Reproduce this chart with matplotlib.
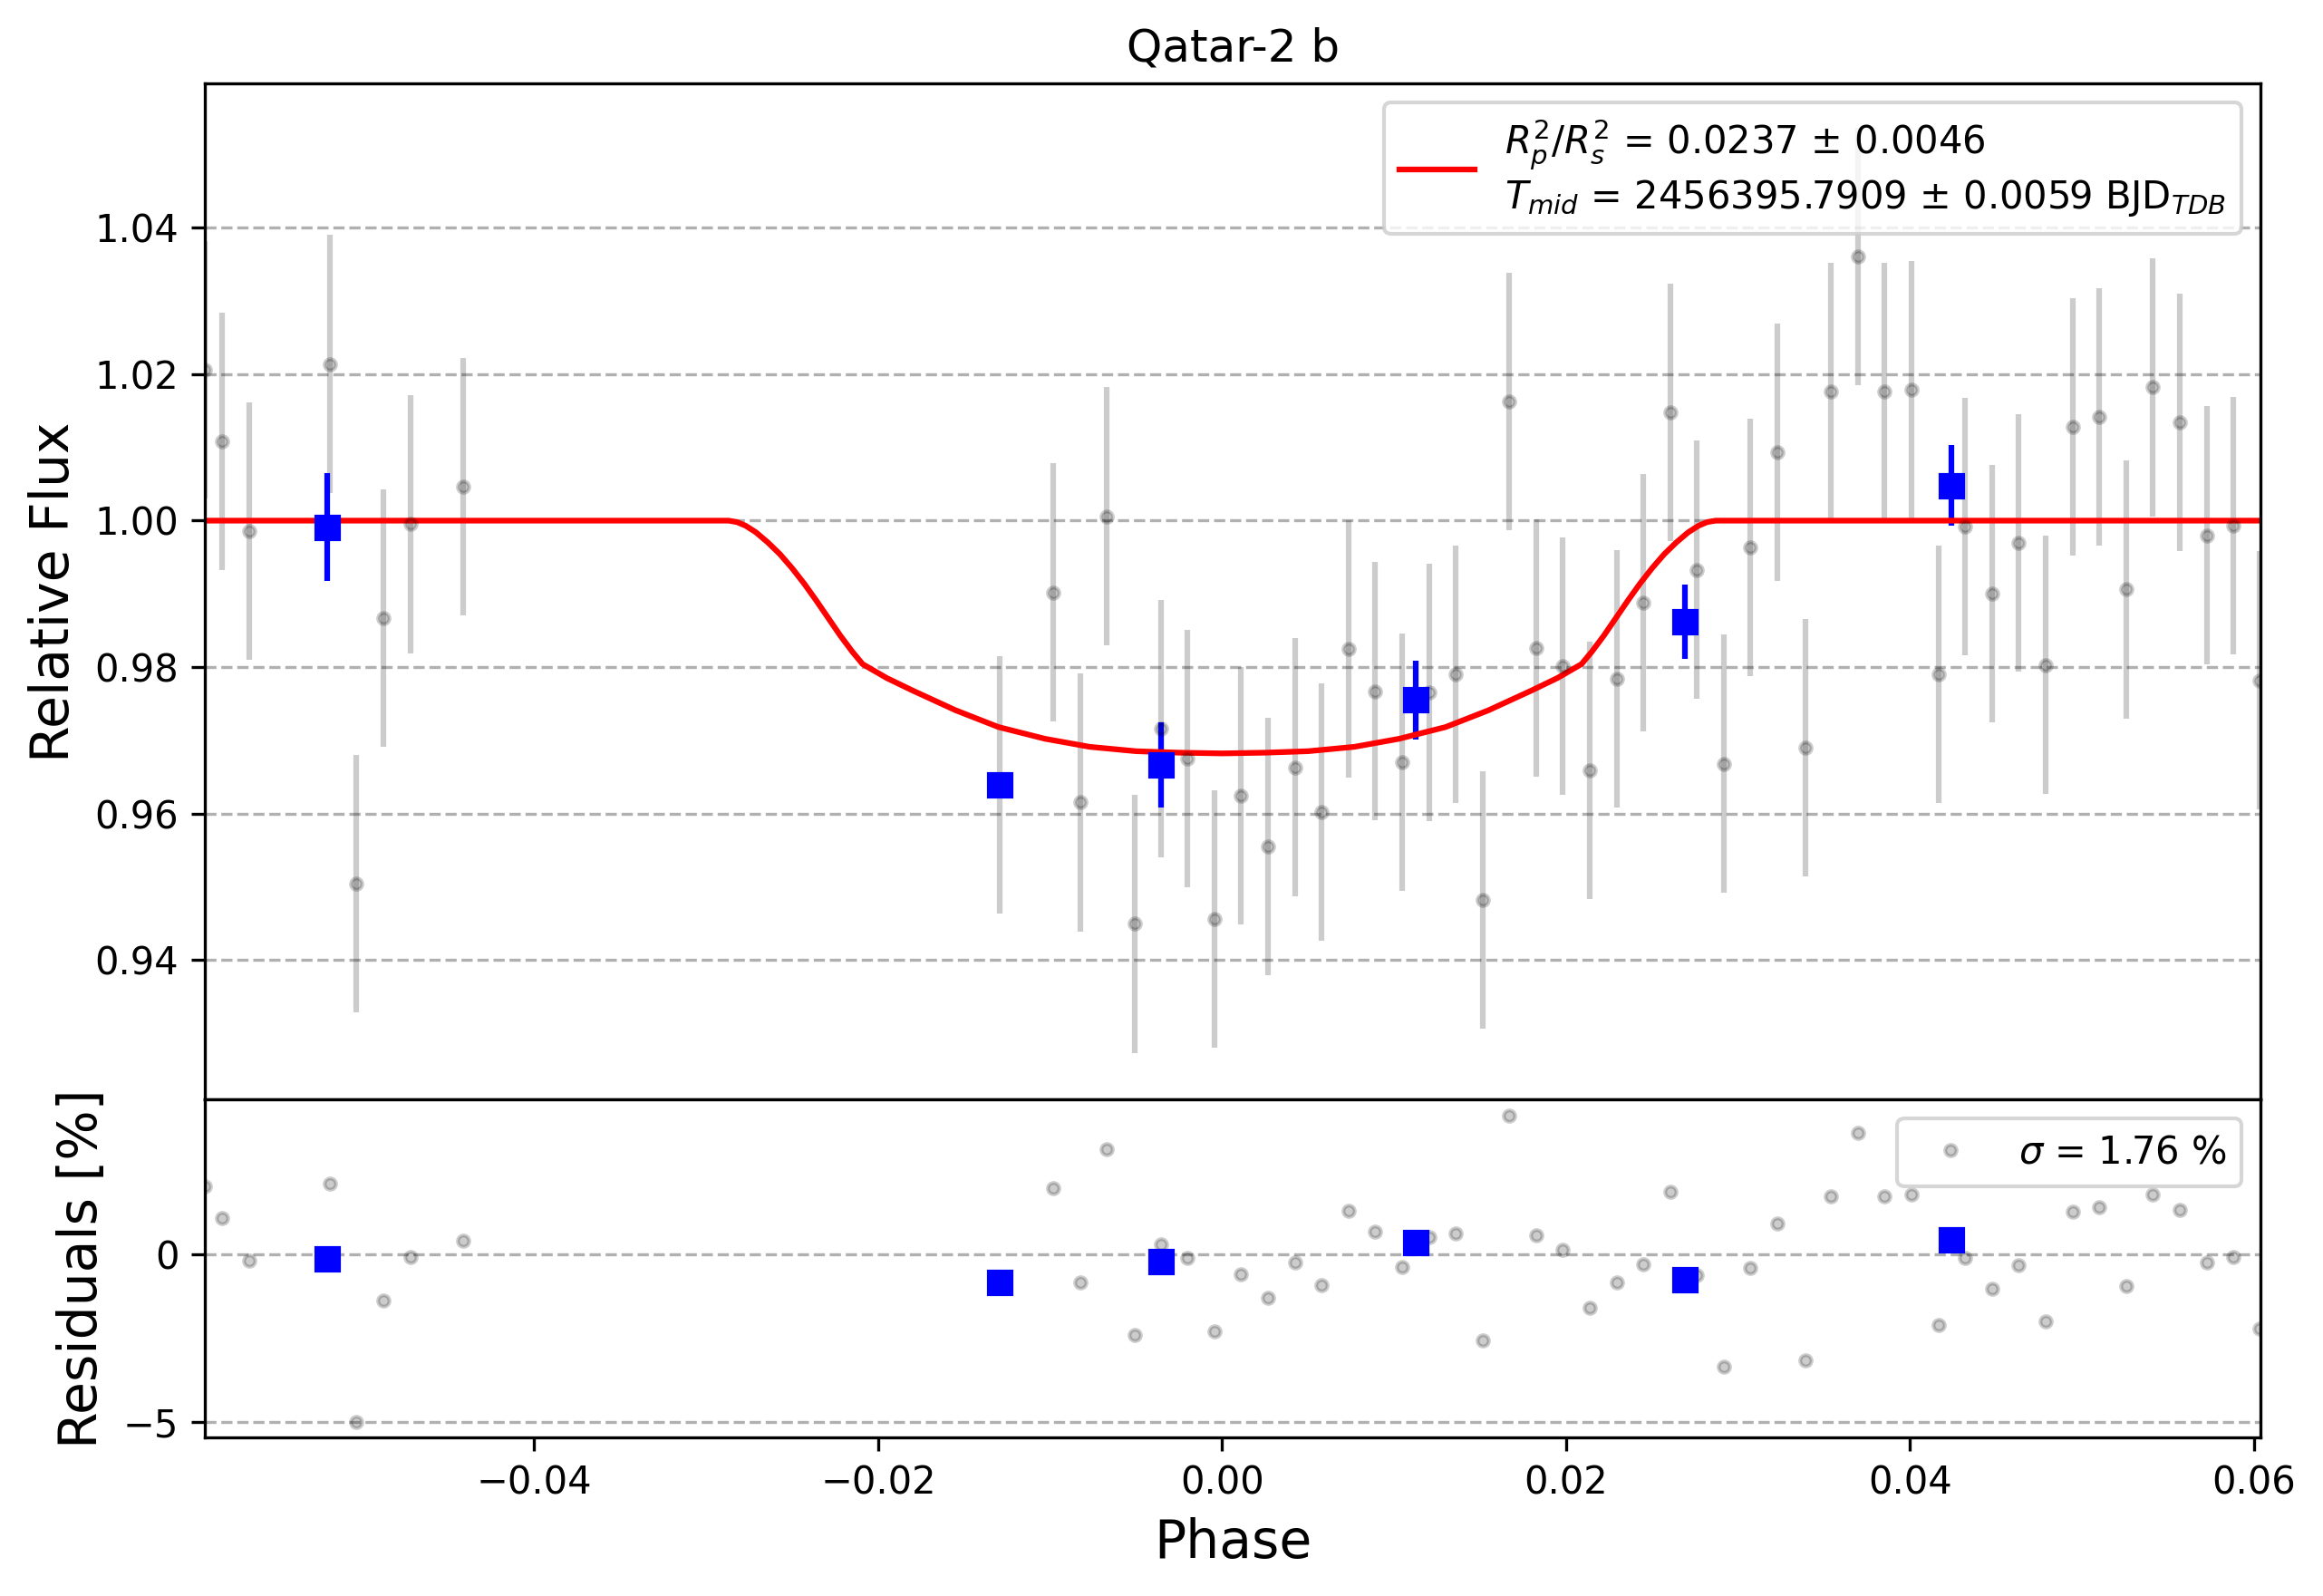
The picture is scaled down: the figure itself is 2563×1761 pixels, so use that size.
import numpy as np
import matplotlib
matplotlib.use('Agg')
import matplotlib.pyplot as plt

# phase-folded light curve
phase = [-0.05912, -0.05813, -0.05655, -0.05186, -0.05035, -0.04875, -0.04720, -0.04412,
         -0.01293, -0.00981, -0.00825, -0.00669, -0.00510, -0.00354, -0.00201, -0.00045,
         0.00111, 0.00267, 0.00426, 0.00579, 0.00735, 0.00891, 0.01047, 0.01206,
         0.01359, 0.01515, 0.01671, 0.01829, 0.01980, 0.02139, 0.02294, 0.02450,
         0.02608, 0.02761, 0.02917, 0.03073, 0.03231, 0.03390, 0.03540, 0.03699,
         0.03852, 0.04010, 0.04169, 0.04322, 0.04480, 0.04631, 0.04790, 0.04948,
         0.05101, 0.05257, 0.05413, 0.05569, 0.05725, 0.05880, 0.06034]
flux = [1.0206, 1.0108, 0.9986, 1.0214, 0.9504, 0.9867, 0.9995, 1.0046,
        0.9639, 0.9902, 0.9615, 1.0006, 0.9449, 0.9716, 0.9675, 0.9456,
        0.9624, 0.9555, 0.9663, 0.9602, 0.9825, 0.9767, 0.9670, 0.9765,
        0.9790, 0.9482, 1.0163, 0.9826, 0.9801, 0.9659, 0.9784, 0.9888,
        1.0148, 0.9933, 0.9668, 0.9963, 1.0093, 0.9690, 1.0176, 1.0361,
        1.0176, 1.0179, 0.9790, 0.9992, 0.9900, 0.9970, 0.9803, 1.0128,
        1.0142, 0.9906, 1.0182, 1.0134, 0.9980, 0.9993, 0.9782]
flux_err = 0.0176
resid = [2.04, 1.08, -0.18, 2.12, -5.00, -1.36, -0.07, 0.42,
         -0.79, 1.99, -0.82, 3.15, -2.41, 0.31, -0.09, -2.28,
         -0.60, -1.30, -0.24, -0.90, 1.31, 0.67, -0.36, 0.52,
         0.63, -2.56, 4.15, 0.58, 0.13, -1.59, -0.84, -0.30,
         1.88, -0.61, -3.35, -0.39, 0.92, -3.14, 1.74, 3.62,
         1.74, 1.80, -2.10, -0.09, -1.01, -0.32, -1.98, 1.29,
         1.41, -0.94, 1.80, 1.34, -0.23, -0.08, -2.21]

# binned points
bin_phase = [-0.05202, -0.01293, -0.00354, 0.01128, 0.02690, 0.04240]
bin_flux = [0.9991, 0.9639, 0.9666, 0.9755, 0.9862, 1.0048]
bin_err = [0.0074, 0.0, 0.0058, 0.0054, 0.0051, 0.0055]
bin_resid = [-0.12, -0.82, -0.22, 0.37, -0.74, 0.45]

# best-fit transit model
model_phase = [-0.05912, -0.0287, -0.0282, -0.0277, -0.0271, -0.0264, -0.0257, -0.0250,
               -0.0243, -0.0236, -0.0229, -0.0222, -0.0215, -0.0209, -0.0195, -0.0180,
               -0.0155, -0.0130, -0.0103, -0.0077, -0.0050, -0.0025, 0.0, 0.0025,
               0.0050, 0.0077, 0.0103, 0.0130, 0.0155, 0.0180, 0.0195, 0.0209,
               0.0215, 0.0222, 0.0229, 0.0236, 0.0243, 0.0250, 0.0257, 0.0264,
               0.0271, 0.0277, 0.0282, 0.0287, 0.06036]
model_flux = [1.0, 1.0, 0.9998, 0.9993, 0.9984, 0.9970, 0.9954, 0.9935,
              0.9914, 0.9891, 0.9867, 0.9843, 0.9821, 0.9804, 0.9785, 0.9768,
              0.9741, 0.9718, 0.9702, 0.9691, 0.9685, 0.9683, 0.9682, 0.9683,
              0.9685, 0.9691, 0.9702, 0.9718, 0.9741, 0.9768, 0.9785, 0.9804,
              0.9821, 0.9843, 0.9867, 0.9891, 0.9914, 0.9935, 0.9954, 0.9970,
              0.9984, 0.9993, 0.9998, 1.0, 1.0]

fit_label = (r'$R_p^2/R_s^2$ = 0.0237 ± 0.0046' + '\n' +
             r'$T_{mid}$ = 2456395.7909 ± 0.0059 BJD$_{TDB}$')
res_label = r'$\sigma$ = 1.76 %'

fig = plt.figure(figsize=(2563 / 300, 1761 / 300), dpi=300)
ax1 = fig.add_axes([0.08837, 0.31101, 0.88459, 0.63658])
ax2 = fig.add_axes([0.08837, 0.09938, 0.88459, 0.21163])

# top: light curve
ax1.errorbar(phase, flux, yerr=flux_err, fmt='ko', ms=3, alpha=0.2)
ax1.errorbar(bin_phase, bin_flux, yerr=bin_err, fmt='bs', ms=6)
ax1.plot(model_phase, model_flux, 'r-', label=fit_label)
ax1.set_xlim(-0.05912, 0.06036)
ax1.set_ylim(0.9209, 1.0597)
ax1.set_xticks([])
ax1.set_ylabel('Relative Flux', fontsize=14)
ax1.set_title('Qatar-2 b')
ax1.yaxis.grid(True, ls='--')
ax1.legend(loc='upper right')

# bottom: residuals in percent
ax2.plot(phase, resid, 'ko', ms=3, alpha=0.2, label=res_label)
ax2.plot(bin_phase, bin_resid, 'bs', ms=6)
ax2.set_xlim(-0.05912, 0.06036)
ax2.set_ylim(-5.45, 4.62)
ax2.set_xlabel('Phase', fontsize=14)
ax2.set_ylabel('Residuals [%]', fontsize=14)
ax2.yaxis.grid(True, ls='--')
ax2.legend(loc='upper right')

fig.savefig('out.png', dpi=300)
